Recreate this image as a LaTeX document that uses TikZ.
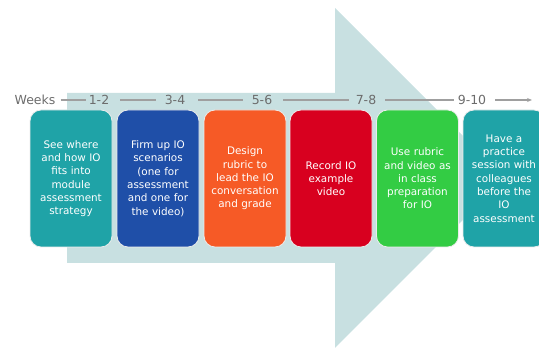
\documentclass[tikz,border=0pt]{standalone}
\usepackage{fontspec}
\setmainfont{DejaVu Sans}
\usetikzlibrary{arrows.meta}
\begin{document}
\begin{tikzpicture}[x=1pt,y=1pt,
  stepbox/.style={draw=white!85!gray, line width=0.8pt, rounded corners=11pt,
    minimum width=82pt, minimum height=137pt, text width=80pt, align=center,
    text=white, font=\fontsize{10.4}{13.3}\selectfont, inner sep=0pt},
  wk/.style={text=gray!85!black, font=\fontsize{12.5}{14}\selectfont, inner sep=1pt},
  wkline/.style={draw=gray!75, line width=1.2pt}]
\useasboundingbox (0,0) rectangle (539,350);
\clip (0,0) rectangle (539,350);
\definecolor{arrowbg}{HTML}{C8E0E1}
\definecolor{cteal}{HTML}{1FA3A7}
\definecolor{cblue}{HTML}{1F4FA8}
\definecolor{corange}{HTML}{F65A26}
\definecolor{cred}{HTML}{D8001F}
\definecolor{cgreen}{HTML}{33CC44}
\fill[arrowbg] (67,257) -- (335,257) -- (335,342) -- (505,172) -- (335,2) -- (335,87) -- (67,87) -- cycle;
% week labels
\node[wk] (w0) at (35,250) {Weeks};
\node[wk] (w1) at (99,250) {1-2};
\node[wk] (w2) at (175,250) {3-4};
\node[wk] (w3) at (262,250) {5-6};
\node[wk] (w4) at (366,250) {7-8};
\node[wk] (w5) at (472,250) {9-10};
\coordinate (wend) at (532,250);
\draw[wkline] ([xshift=4pt]w0.east) -- ([xshift=-2pt]w1.west);
\draw[wkline] ([xshift=10pt]w1.east) -- ([xshift=-8pt]w2.west);
\draw[wkline] ([xshift=12pt]w2.east) -- ([xshift=-8pt]w3.west);
\draw[wkline] ([xshift=10pt]w3.east) -- ([xshift=-6pt]w4.west);
\draw[wkline] ([xshift=8pt]w4.east) -- ([xshift=-3pt]w5.west);
\draw[wkline, -{Stealth[length=5pt,width=4pt]}] ([xshift=8pt]w5.east) -- (wend);
% boxes
\node[stepbox, fill=cteal] (b1) at (71,171.5) {See where\\and how IO\\fits into\\module\\assessment\\strategy};
\node[stepbox, fill=cblue] (b2) at (158,171.5) {Firm up IO\\scenarios\\(one for\\assessment\\and one for\\the video)};
\node[stepbox, fill=corange] (b3) at (245,171.5) {Design\\rubric to\\lead the IO\\conversation\\and grade};
\node[stepbox, fill=cred] (b4) at (331,171.5) {Record IO\\example\\video};
\node[stepbox, fill=cgreen] (b5) at (417.5,171.5) {Use rubric\\and video as\\in class\\preparation\\for IO};
\node[stepbox, fill=cteal] (b6) at (504,171.5) {Have a\\practice\\session with\\colleagues\\before the\\IO\\assessment};
\end{tikzpicture}
\end{document}
